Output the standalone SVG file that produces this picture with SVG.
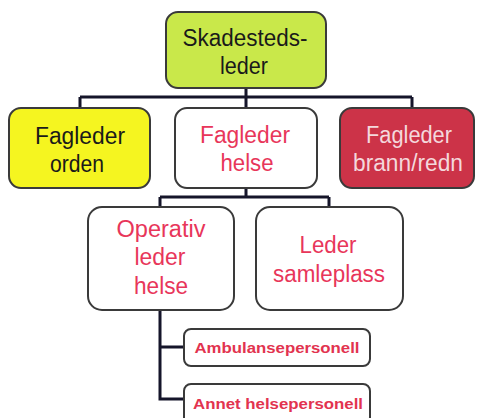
<svg xmlns="http://www.w3.org/2000/svg" width="478" height="418" viewBox="0 0 478 418">
<style>
.box{stroke:#3a3a3a;stroke-width:2}
.t{font-family:"Liberation Sans",Arial,sans-serif;font-size:23px;text-anchor:middle}
.s{font-family:"Liberation Sans",Arial,sans-serif;font-size:15px;font-weight:bold;text-anchor:middle;fill:#e2334f}
.ln{stroke:#15152a;stroke-width:3;fill:none}
</style>
<rect width="478" height="418" fill="#ffffff"/>
<g id="connectors">
<path class="ln" d="M246 88V97M80 97H412M80 97V108M246 97V108M412 97V108"/>
<path class="ln" d="M246 188V197M160 197H329M160 197V207M329 197V207"/>
<path class="ln" d="M160 310V399H184M160 347H184"/>
</g>
<g id="skadestedsleder">
<rect class="box" x="166" y="12" width="160" height="76" rx="12" fill="#c9e84a"/>
<text class="t" x="245" y="46" fill="#1a1a1a" textLength="125" lengthAdjust="spacingAndGlyphs">Skadesteds-</text>
<text class="t" x="244" y="74" fill="#1a1a1a" textLength="48" lengthAdjust="spacingAndGlyphs">leder</text>
</g>
<g id="fagleder-orden">
<rect class="box" x="9" y="108" width="141" height="80" rx="12" fill="#f5f520"/>
<text class="t" x="80" y="144" fill="#1a1a1a" textLength="90" lengthAdjust="spacingAndGlyphs">Fagleder</text>
<text class="t" x="77" y="172" fill="#1a1a1a" textLength="54" lengthAdjust="spacingAndGlyphs">orden</text>
</g>
<g id="fagleder-helse">
<rect class="box" x="175" y="108" width="142" height="80" rx="12" fill="#ffffff"/>
<text class="t" x="245" y="143" fill="#e8365a" textLength="90" lengthAdjust="spacingAndGlyphs">Fagleder</text>
<text class="t" x="247" y="171" fill="#e8365a" textLength="53" lengthAdjust="spacingAndGlyphs">helse</text>
</g>
<g id="fagleder-brann">
<rect class="box" x="340" y="108" width="134" height="80" rx="12" fill="#cc3348"/>
<text class="t" x="409" y="143" fill="#f4d8dc" textLength="86" lengthAdjust="spacingAndGlyphs">Fagleder</text>
<text class="t" x="408" y="171" fill="#f4d8dc" textLength="110" lengthAdjust="spacingAndGlyphs">brann/redn</text>
</g>
<g id="operativ-leder-helse">
<rect class="box" x="88" y="207" width="146" height="103" rx="14" fill="#ffffff"/>
<text class="t" x="161" y="237" fill="#e8365a" textLength="89" lengthAdjust="spacingAndGlyphs">Operativ</text>
<text class="t" x="160" y="265" fill="#e8365a" textLength="51" lengthAdjust="spacingAndGlyphs">leder</text>
<text class="t" x="161" y="294" fill="#e8365a" textLength="54" lengthAdjust="spacingAndGlyphs">helse</text>
</g>
<g id="leder-samleplass">
<rect class="box" x="256" y="207" width="147" height="103" rx="14" fill="#ffffff"/>
<text class="t" x="328" y="253" fill="#e8365a" textLength="57" lengthAdjust="spacingAndGlyphs">Leder</text>
<text class="t" x="329" y="282" fill="#e8365a" textLength="112" lengthAdjust="spacingAndGlyphs">samleplass</text>
</g>
<g id="ambulansepersonell">
<rect class="box" x="184" y="329" width="186" height="37" rx="7" fill="#ffffff"/>
<text class="s" x="277" y="353" textLength="165" lengthAdjust="spacingAndGlyphs">Ambulansepersonell</text>
</g>
<g id="annet-helsepersonell">
<rect class="box" x="184" y="384" width="186" height="40" rx="7" fill="#ffffff"/>
<text class="s" x="278" y="409" textLength="170" lengthAdjust="spacingAndGlyphs">Annet helsepersonell</text>
</g>
</svg>
